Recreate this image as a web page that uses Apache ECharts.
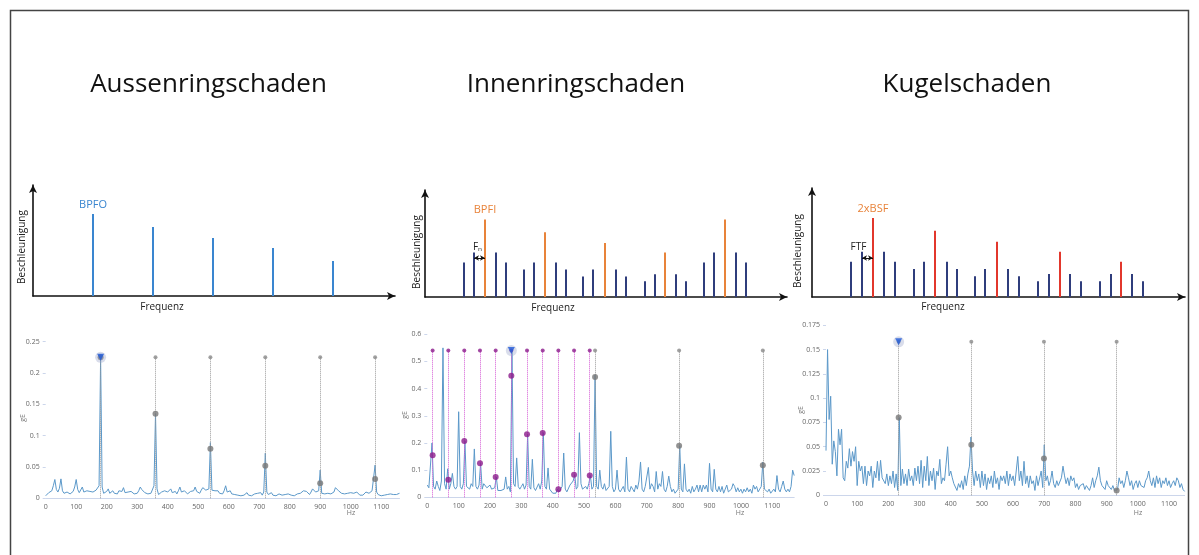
<!DOCTYPE html>
<html>
<head>
<meta charset="utf-8">
<script src="https://cdn.jsdelivr.net/npm/echarts@6/dist/echarts.min.js"></script>
<style>
  html, body { margin: 0; padding: 0; background: #fff; }
  #chart { width: 1199px; height: 555px; }
</style>
</head>
<body>
<div id="chart"></div>
<script>
// ---- schematic spectra (arbitrary units) ----
const outerPos = [6, 12, 18, 24, 30];
const outerAmp = [8.2, 6.9, 5.8, 4.8, 3.5];

const innerMainPos = [6, 12, 18, 24, 30];
const innerMainAmp = [7.75, 6.47, 5.4, 4.45, 7.75];
const innerSidePos = [3.9, 4.9, 7.1, 8.1, 9.9, 10.9, 13.1, 14.1, 15.8, 16.8, 19.1, 20.1, 22, 23, 25.1, 26.1, 27.9, 28.9, 31.1, 32.1];
const innerSideAmp = [3.45, 4.45, 4.45, 3.45, 2.75, 3.45, 3.45, 2.75, 2.05, 2.75, 2.75, 2.05, 1.57, 2.27, 2.27, 1.57, 3.45, 4.45, 4.45, 3.45];

const ballMainPos = [6.1, 12.3, 18.5, 24.8, 30.9];
const ballMainAmp = [7.9, 6.63, 5.53, 4.53, 3.53];
const ballSidePos = [3.9, 5.0, 7.2, 8.3, 10.2, 11.2, 13.5, 14.5, 16.3, 17.3, 19.6, 20.7, 22.6, 23.7, 25.8, 26.9, 28.8, 29.9, 32.0, 33.1];
const ballSideAmp = [3.53, 4.53, 4.53, 3.53, 2.8, 3.53, 3.53, 2.8, 2.07, 2.8, 2.8, 2.07, 1.57, 2.3, 2.3, 1.57, 1.57, 2.3, 2.3, 1.57];

// ---- measured envelope spectra, 5 Hz bins ----
const STEP = 5;
const spec1 = [
  0.004,0.006,0.009,0.007,0.012,0.020,0.030,0.014,0.010,0.016,0.031,0.012,0.008,0.006,0.010,0.013,0.007,0.009,0.011,0.018,
  0.030,0.014,0.009,0.011,0.018,0.010,0.008,0.012,0.009,0.011,0.008,0.010,0.009,0.013,0.015,0.020,0.225,0.018,0.008,0.009,
  0.011,0.015,0.008,0.009,0.012,0.008,0.010,0.007,0.012,0.009,0.011,0.017,0.009,0.007,0.010,0.008,0.011,0.009,0.007,0.010,
  0.008,0.012,0.018,0.014,0.012,0.009,0.011,0.007,0.010,0.008,0.006,0.020,0.135,0.015,0.006,0.008,0.010,0.007,0.012,0.009,
  0.010,0.013,0.015,0.009,0.008,0.011,0.007,0.012,0.018,0.010,0.008,0.012,0.009,0.007,0.008,0.011,0.009,0.012,0.018,0.011,
  0.010,0.008,0.013,0.017,0.020,0.013,0.010,0.015,0.089,0.013,0.010,0.012,0.009,0.012,0.008,0.010,0.007,0.012,0.020,0.010,
  0.008,0.012,0.007,0.009,0.006,0.008,0.005,0.007,0.004,0.006,0.005,0.008,0.009,0.005,0.007,0.004,0.005,0.007,0.004,0.008,
  0.006,0.009,0.005,0.010,0.072,0.010,0.006,0.008,0.009,0.005,0.006,0.004,0.005,0.007,0.004,0.005,0.004,0.006,0.005,0.007,
  0.008,0.005,0.006,0.004,0.005,0.007,0.006,0.008,0.010,0.012,0.009,0.011,0.008,0.006,0.010,0.015,0.012,0.010,0.008,0.012,
  0.045,0.008,0.010,0.007,0.006,0.008,0.005,0.007,0.005,0.010,0.017,0.014,0.012,0.009,0.008,0.010,0.007,0.009,0.008,0.006,
  0.009,0.012,0.008,0.006,0.010,0.007,0.005,0.006,0.005,0.008,0.010,0.012,0.008,0.007,0.012,0.014,0.053,0.010,0.006,0.005,
  0.004,0.006,0.005,0.004,0.006,0.005,0.007,0.005,0.006,0.008,0.006,0.008,0.008
];
const spec2 = [
  0.045,0.035,0.040,0.200,0.040,0.030,0.060,0.040,0.025,0.060,0.550,0.050,0.030,0.105,0.030,0.050,0.088,0.040,0.030,0.040,
  0.315,0.040,0.030,0.050,0.207,0.040,0.045,0.030,0.050,0.040,0.178,0.040,0.030,0.045,0.125,0.030,0.050,0.045,0.035,0.040,
  0.045,0.030,0.025,0.035,0.075,0.025,0.020,0.025,0.020,0.030,0.075,0.030,0.040,0.020,0.540,0.050,0.040,0.145,0.040,0.030,
  0.040,0.050,0.030,0.045,0.232,0.040,0.030,0.140,0.035,0.025,0.030,0.050,0.030,0.060,0.238,0.040,0.030,0.108,0.030,0.025,
  0.015,0.020,0.015,0.030,0.020,0.015,0.040,0.163,0.030,0.020,0.025,0.045,0.040,0.060,0.083,0.030,0.040,0.238,0.050,0.030,
  0.030,0.040,0.030,0.050,0.080,0.030,0.040,0.450,0.040,0.030,0.100,0.040,0.030,0.050,0.025,0.020,0.040,0.243,0.040,0.020,
  0.030,0.100,0.030,0.020,0.030,0.040,0.020,0.148,0.030,0.020,0.040,0.030,0.020,0.045,0.030,0.060,0.130,0.030,0.020,0.040,
  0.040,0.110,0.030,0.050,0.040,0.020,0.095,0.030,0.050,0.040,0.095,0.030,0.020,0.040,0.078,0.040,0.020,0.030,0.015,0.020,
  0.030,0.190,0.030,0.020,0.123,0.030,0.020,0.030,0.015,0.040,0.020,0.030,0.045,0.020,0.045,0.020,0.045,0.030,0.045,0.020,
  0.125,0.030,0.020,0.103,0.030,0.020,0.040,0.020,0.040,0.015,0.030,0.045,0.020,0.020,0.030,0.050,0.040,0.020,0.035,0.020,
  0.030,0.015,0.030,0.020,0.035,0.020,0.030,0.015,0.045,0.030,0.040,0.020,0.030,0.040,0.130,0.030,0.035,0.020,0.030,0.015,
  0.020,0.030,0.020,0.080,0.030,0.020,0.040,0.060,0.030,0.020,0.030,0.020,0.040,0.100,0.080
];
const spec3 = [
  0.046,0.150,0.078,0.102,0.032,0.056,0.045,0.020,0.068,0.052,0.068,0.018,0.015,0.035,0.028,0.048,0.030,0.045,0.035,0.050,
  0.010,0.035,0.025,0.030,0.012,0.030,0.010,0.025,0.020,0.030,0.008,0.025,0.018,0.035,0.015,0.036,0.018,0.020,0.012,0.022,
  0.010,0.020,0.012,0.025,0.008,0.022,0.005,0.080,0.010,0.027,0.012,0.022,0.010,0.027,0.015,0.020,0.010,0.028,0.015,0.030,
  0.012,0.036,0.008,0.030,0.015,0.040,0.010,0.025,0.015,0.028,0.006,0.025,0.020,0.037,0.012,0.018,0.015,0.032,0.050,0.020,
  0.025,0.018,0.012,0.010,0.005,0.012,0.008,0.015,0.006,0.020,0.010,0.022,0.030,0.060,0.025,0.010,0.025,0.015,0.022,0.008,
  0.025,0.010,0.022,0.006,0.018,0.012,0.020,0.008,0.025,0.012,0.018,0.006,0.020,0.015,0.020,0.012,0.025,0.010,0.022,0.015,
  0.020,0.010,0.025,0.040,0.015,0.025,0.010,0.035,0.012,0.020,0.008,0.020,0.012,0.015,0.005,0.020,0.010,0.012,0.025,0.008,
  0.052,0.015,0.020,0.010,0.015,0.025,0.012,0.008,0.015,0.010,0.012,0.018,0.030,0.020,0.012,0.018,0.010,0.020,0.015,0.018,
  0.008,0.012,0.006,0.010,0.008,0.012,0.006,0.010,0.012,0.005,0.010,0.018,0.008,0.015,0.020,0.029,0.015,0.010,0.012,0.006,
  0.015,0.010,0.012,0.006,0.010,0.005,0.004,0.006,0.018,0.012,0.015,0.008,0.015,0.025,0.018,0.010,0.015,0.006,0.012,0.015,
  0.008,0.015,0.010,0.012,0.008,0.015,0.018,0.025,0.015,0.010,0.018,0.008,0.020,0.012,0.018,0.008,0.015,0.012,0.018,0.010,
  0.015,0.008,0.012,0.015,0.010,0.018,0.015,0.008,0.012,0.006,0.004
];

// harmonic cursors
const bpfoHz = [180, 360, 540, 720, 900, 1080];
const bpfoAmp = [0.225, 0.135, 0.079, 0.052, 0.024, 0.031];
const bpfoTop = 0.225;

const sideHz = [17, 67, 118, 168, 218, 268, 318, 368, 418, 468, 518];
const sideAmp = [0.155, 0.065, 0.207, 0.125, 0.075, 0.447, 0.232, 0.237, 0.030, 0.083, 0.080];
const bpfiHz = [535, 803, 1070];
const bpfiAmp = [0.443, 0.190, 0.118];
const bpfiTop = 0.54;
const bpfiCursorHz = 268;

const bsfHz = [233, 466, 699, 932];
const bsfAmp = [0.080, 0.052, 0.038, 0.005];
const bsfTop = 0.158;

const FONT = '"Open Sans", "Noto Sans", sans-serif';
const BLUE = '#3a86d0';
const NAVY = '#2f3d7c';
const ORANGE = '#e8833a';
const RED = '#e2372c';
const SPEC = '#5b98c9';

const chart = echarts.init(document.getElementById('chart'));

const pairs = (xs, ys) => xs.map((x, i) => [x, ys[i]]);
const specData = arr => arr.map((v, i) => [i * STEP, v]);

const grids = [
  { left: 33, top: 185, width: 362, height: 111 },
  { left: 425, top: 190, width: 362, height: 107 },
  { left: 812, top: 188, width: 373, height: 109 },
  { left: 45.7, top: 341.7, width: 353.8, height: 156.6 },
  { left: 427.3, top: 334.3, width: 366.9, height: 163 },
  { left: 826, top: 325.3, width: 358.6, height: 170 }
];

const schemX = max => ({
  type: 'value', min: 0, max: max,
  axisLine: { show: true, symbol: ['none', 'arrow'], symbolSize: [6, 8], lineStyle: { color: '#111', width: 1.6 } },
  axisTick: { show: false }, axisLabel: { show: false }, splitLine: { show: false }
});
const schemY = max => ({
  type: 'value', min: 0, max: max,
  axisLine: { show: true, symbol: ['none', 'arrow'], symbolSize: [6, 8], lineStyle: { color: '#111', width: 1.6 } },
  axisTick: { show: false }, axisLabel: { show: false }, splitLine: { show: false }
});
const specX = max => ({
  type: 'value', min: 0, max: max, interval: 100,
  axisLine: { show: true, onZero: false, lineStyle: { color: '#ccd6eb', width: 1 } },
  axisTick: { show: false },
  axisLabel: { fontSize: 7, color: '#666', margin: 5, fontFamily: FONT, showMaxLabel: false, formatter: v => String(v) },
  splitLine: { show: false }
});
const specY = (max, step) => ({
  type: 'value', min: 0, max: max, interval: step,
  axisLine: { show: false },
  axisTick: { show: true, length: 3, lineStyle: { color: '#ccd6eb' } },
  axisLabel: { fontSize: 7, color: '#666', margin: 6, fontFamily: FONT },
  splitLine: { show: false }
});

function barSeries(idx, pos, amp, color) {
  return {
    type: 'bar', xAxisIndex: idx, yAxisIndex: idx,
    barWidth: 2, barGap: '-100%',
    itemStyle: { color: color },
    data: pairs(pos, amp)
  };
}

function arrowSeries(idx, from, to, y, text, offset) {
  return {
    type: 'line', xAxisIndex: idx, yAxisIndex: idx, data: [], silent: true,
    markLine: {
      silent: true, symbol: ['arrow', 'arrow'], symbolSize: [4, 5],
      lineStyle: { color: '#111', width: 1, type: 'solid' },
      label: { show: true, position: 'insideMiddleTop', distance: 6, formatter: text, color: '#222', fontSize: 10, fontFamily: FONT, offset: offset },
      data: [[{ coord: [from, y] }, { coord: [to, y] }]]
    }
  };
}

function cursorLines(idx, hz, top, color) {
  return {
    type: 'line', xAxisIndex: idx, yAxisIndex: idx, data: [], silent: true, z: 1,
    markLine: {
      silent: true, symbol: ['none', 'none'], label: { show: false },
      lineStyle: { color: color, width: 1, type: 'dotted' },
      data: hz.map(f => [{ coord: [f, 0] }, { coord: [f, top] }])
    }
  };
}

function dots(idx, xs, ys, color, size) {
  return {
    type: 'scatter', xAxisIndex: idx, yAxisIndex: idx, silent: true, z: 5,
    symbolSize: size, itemStyle: { color: color },
    data: pairs(xs, ys)
  };
}

function cursorMark(idx, x, y) {
  return [
    { type: 'scatter', xAxisIndex: idx, yAxisIndex: idx, silent: true, z: 6, symbolSize: 11,
      itemStyle: { color: 'rgba(150,160,200,0.45)' }, data: [[x, y]] },
    { type: 'scatter', xAxisIndex: idx, yAxisIndex: idx, silent: true, z: 7, symbol: 'triangle', symbolRotate: 180, symbolSize: 7,
      itemStyle: { color: '#1f5ad8' }, data: [[x, y]] }
  ];
}

function specSeries(idx, arr) {
  return {
    type: 'line', xAxisIndex: idx, yAxisIndex: idx, showSymbol: false, silent: true, z: 3,
    lineStyle: { color: SPEC, width: 1 }, data: specData(arr)
  };
}

const topLabel = (text, color) => ({ show: true, position: 'top', distance: 4, formatter: text, color: color, fontSize: 11, fontFamily: FONT });

const s1 = barSeries(0, outerPos, outerAmp, BLUE);
s1.data[0] = { value: s1.data[0], label: topLabel('BPFO', BLUE) };
const s2 = barSeries(1, innerMainPos, innerMainAmp, ORANGE);
s2.data[0] = { value: s2.data[0], label: topLabel('BPFI', ORANGE) };
const s3 = barSeries(2, ballMainPos, ballMainAmp, RED);
s3.data[0] = { value: s3.data[0], label: topLabel('2xBSF', ORANGE) };

const textEl = (x, y, text, size, color, rot) => ({
  type: 'text', x: x, y: y, rotation: rot || 0, silent: true,
  style: { text: text, font: size + 'px ' + FONT, fill: color, textAlign: 'center', textVerticalAlign: 'middle', align: 'center', verticalAlign: 'middle' }
});

const option = {
  animation: false,
  backgroundColor: '#fff',
  grid: grids,
  xAxis: [schemX(36.2), schemX(36.2), schemX(37.3), specX(1160), specX(1170), specX(1150)].map((a, i) => Object.assign(a, { gridIndex: i })),
  yAxis: [schemY(11.1), schemY(10.7), schemY(10.9), specY(0.25, 0.05), specY(0.6, 0.1), specY(0.175, 0.025)].map((a, i) => Object.assign(a, { gridIndex: i })),
  series: [
    s1,
    barSeries(1, innerSidePos, innerSideAmp, NAVY), s2,
    arrowSeries(1, 4.9, 6, 3.9, 'Fₙ', [-2, 0]),
    barSeries(2, ballSidePos, ballSideAmp, NAVY), s3,
    arrowSeries(2, 5.0, 6.1, 3.9, 'FTF', [-9, 0]),

    cursorLines(3, bpfoHz, bpfoTop, '#999'),
    specSeries(3, spec1),
    dots(3, bpfoHz, bpfoHz.map(() => bpfoTop), '#888', 4),
    dots(3, bpfoHz, bpfoAmp, '#777', 6),
    ...cursorMark(3, bpfoHz[0], bpfoTop),

    cursorLines(4, sideHz, bpfiTop, '#d45ad4'),
    cursorLines(4, bpfiHz, bpfiTop, '#999'),
    specSeries(4, spec2),
    dots(4, sideHz, sideHz.map(() => bpfiTop), '#8b1a8b', 4),
    dots(4, bpfiHz, bpfiHz.map(() => bpfiTop), '#888', 4),
    dots(4, sideHz, sideAmp, '#8b1a8b', 6),
    dots(4, bpfiHz, bpfiAmp, '#777', 6),
    ...cursorMark(4, bpfiCursorHz, bpfiTop),

    cursorLines(5, bsfHz, bsfTop, '#999'),
    specSeries(5, spec3),
    dots(5, bsfHz, bsfHz.map(() => bsfTop), '#888', 4),
    dots(5, bsfHz, bsfAmp, '#777', 6),
    ...cursorMark(5, bsfHz[0], bsfTop)
  ],
  graphic: [
    { type: 'rect', silent: true, shape: { x: 10.5, y: 10.5, width: 1178, height: 560 }, style: { fill: 'none', stroke: '#444', lineWidth: 1.5 } },
    textEl(208.5, 85, 'Aussenringschaden', 26, '#111'),
    textEl(576, 85, 'Innenringschaden', 26, '#111'),
    textEl(967, 85, 'Kugelschaden', 26, '#111'),
    textEl(22, 247, 'Beschleunigung', 10, '#222', Math.PI / 2),
    textEl(417, 252, 'Beschleunigung', 10, '#222', Math.PI / 2),
    textEl(798, 251, 'Beschleunigung', 10, '#222', Math.PI / 2),
    textEl(162, 307, 'Frequenz', 10, '#222'),
    textEl(553, 308, 'Frequenz', 10, '#222'),
    textEl(943, 307, 'Frequenz', 10, '#222'),
    textEl(23, 418, 'gE', 7, '#777', Math.PI / 2),
    textEl(405, 415, 'gE', 7, '#777', Math.PI / 2),
    textEl(801, 410, 'gE', 7, '#777', Math.PI / 2),
    textEl(351, 513, 'Hz', 7, '#777'),
    textEl(740, 513, 'Hz', 7, '#777'),
    textEl(1138, 513, 'Hz', 7, '#777')
  ]
};

chart.setOption(option);
</script>
</body>
</html>
